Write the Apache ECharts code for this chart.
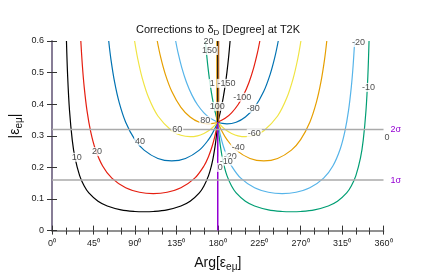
<!DOCTYPE html>
<html><head><meta charset="utf-8">
<script src="https://cdn.jsdelivr.net/npm/echarts@6/dist/echarts.min.js"></script>
<style>html,body{margin:0;padding:0;background:#fff}#c{width:436px;height:273px}</style>
</head><body><div id="c"></div>
<script>
// ---- data ----
const xTickValues = [0, 45, 90, 135, 180, 225, 270, 315, 360];
const yTickValues = [0, 0.1, 0.2, 0.3, 0.4, 0.5, 0.6];
const sigmaLevels = [0.16, 0.32];
const sigmaNames = ['1σ', '2σ'];

// contour curves: Arg [deg] and |eps| values
const phi_p10 = [15.7, 17, 19, 22, 25, 30, 35, 40, 50, 60, 75, 90, 100, 110, 125, 140, 150, 160, 165, 170, 173, 175, 177, 178, 179, 180];
const r_p10   = [0.6, 0.4887, 0.3807, 0.2865, 0.2301, 0.1741, 0.1409, 0.1191, 0.0927, 0.0778, 0.0657, 0.0605, 0.0596, 0.0605, 0.0657, 0.0778, 0.0927, 0.1191, 0.1409, 0.1741, 0.2037, 0.2301, 0.2648, 0.2865, 0.3121, 0.343];
const phi_m10 = [344.3, 343, 341, 338, 335, 330, 325, 320, 310, 300, 285, 270, 260, 250, 235, 220, 210, 200, 195, 190, 187, 185, 183, 182, 181, 180];
const r_m10   = [0.6, 0.4887, 0.3807, 0.2865, 0.2301, 0.1741, 0.1409, 0.1191, 0.0927, 0.0778, 0.0657, 0.0605, 0.0596, 0.0605, 0.0657, 0.0778, 0.0927, 0.1191, 0.1409, 0.1741, 0.2037, 0.2301, 0.2648, 0.2865, 0.3121, 0.343];

const phi_p20 = [31.3, 33, 35, 38, 42, 47, 55, 65, 80, 95, 110, 125, 140, 155, 165, 170, 174, 177, 178.5, 180];
const r_p20   = [0.6, 0.5215, 0.4533, 0.3796, 0.3131, 0.2584, 0.2045, 0.1659, 0.1355, 0.1214, 0.1173, 0.1214, 0.1355, 0.1659, 0.2045, 0.2346, 0.2676, 0.3002, 0.3201, 0.343];
const phi_m20 = [328.7, 327, 325, 322, 318, 313, 305, 295, 280, 265, 250, 235, 220, 205, 195, 190, 186, 183, 181.5, 180];
const r_m20   = [0.6, 0.5215, 0.4533, 0.3796, 0.3131, 0.2584, 0.2045, 0.1659, 0.1355, 0.1214, 0.1173, 0.1214, 0.1355, 0.1659, 0.2045, 0.2346, 0.2676, 0.3002, 0.3201, 0.343];

const phi_p40 = [61.6, 64, 68, 73, 80, 90, 100, 115, 130, 145, 160, 170, 175, 180];
const r_p40   = [0.6, 0.5421, 0.4696, 0.4048, 0.343, 0.2878, 0.2546, 0.2283, 0.2205, 0.2283, 0.2546, 0.2878, 0.3118, 0.343];
const phi_m40 = [298.4, 296, 292, 287, 280, 270, 260, 245, 230, 215, 200, 190, 185, 180];
const r_m40   = [0.6, 0.5421, 0.4696, 0.4048, 0.343, 0.2878, 0.2546, 0.2283, 0.2205, 0.2283, 0.2546, 0.2878, 0.3118, 0.343];

const phi_p60 = [89.7, 93, 98, 105, 115, 130, 140, 150, 158, 165, 170, 175, 180];
const r_p60   = [0.6, 0.5454, 0.4825, 0.4201, 0.3626, 0.3161, 0.3016, 0.2971, 0.3000, 0.3075, 0.3161, 0.3278, 0.343];
const phi_m60 = [270.3, 267, 262, 255, 245, 230, 220, 210, 202, 195, 190, 185, 180];
const r_m60   = [0.6, 0.5454, 0.4825, 0.4201, 0.3626, 0.3161, 0.3016, 0.2971, 0.3000, 0.3075, 0.3161, 0.3278, 0.343];

const phi_p80 = [114.3, 118, 123, 130, 140, 150, 160, 170, 175, 180];
const r_p80   = [0.6, 0.5487, 0.4953, 0.4410, 0.3900, 0.3595, 0.3430, 0.3378, 0.3391, 0.3430];
const phi_m80 = [245.7, 242, 237, 230, 220, 210, 200, 190, 185, 180];
const r_m80   = [0.6, 0.5487, 0.4953, 0.4410, 0.3900, 0.3595, 0.3430, 0.3378, 0.3391, 0.3430];

const phi_p100 = [134.3, 137, 141, 146, 152, 158, 165, 172, 180];
const r_p100   = [0.6, 0.5613, 0.5149, 0.4696, 0.4287, 0.3983, 0.3727, 0.3552, 0.3430];
const phi_m100 = [225.7, 223, 219, 214, 208, 202, 195, 188, 180];
const r_m100   = [0.6, 0.5613, 0.5149, 0.4696, 0.4287, 0.3983, 0.3727, 0.3552, 0.3430];

const phi_p150 = [166.6, 168, 170, 172, 174, 176, 178, 180];
const r_p150   = [0.6, 0.5550, 0.5014, 0.4578, 0.4216, 0.3912, 0.3653, 0.343];
const phi_m150 = [193.4, 192, 190, 188, 186, 184, 182, 180];
const r_m150   = [0.6, 0.5550, 0.5014, 0.4578, 0.4216, 0.3912, 0.3653, 0.343];

// zero contour along Arg = 180
const phi_zero = [180, 180];
const r_zero   = [0, 0.343];
// bunched contour lines along the branch cut above the singular point
const cutPhi = [179, 180, 181];
const cutR   = [0.343, 0.6];

// contour labels: text, Arg, |eps|
const labelText = ['10', '20', '40', '60', '80', '100', '150', '20', '1', '-150', '-100', '-80', '-60', '-40', '-20', '-10', '0', '-20', '-10', '0'];
const labelPhi  = [27, 49, 95.7, 136, 166.4, 179.5, 171, 170, 174, 189.6, 206.7, 218.6, 219.7, 202.3, 193.6, 189.3, 182.7, 332.8, 343.7, 363.8];
const labelR    = [0.232, 0.25, 0.283, 0.32, 0.349, 0.393, 0.570, 0.598, 0.466, 0.466, 0.422, 0.387, 0.308, 0.264, 0.236, 0.22, 0.2, 0.595, 0.453, 0.295];

// ---- styling ----
const C = {purple:'#9400D3', green:'#009E73', lblue:'#56B4E9', orange:'#E69F00', yellow:'#F0E442', blue:'#0072B2', red:'#E51E10', black:'#000000'};
const zip = (a, b) => a.map((v, i) => [v, b[i]]);
const curves = [
  [phi_p10, r_p10, C.black], [phi_p20, r_p20, C.red], [phi_p40, r_p40, C.blue], [phi_p60, r_p60, C.yellow],
  [phi_p80, r_p80, C.orange], [phi_p100, r_p100, C.lblue], [phi_p150, r_p150, C.green],
  [phi_m10, r_m10, C.green], [phi_m20, r_m20, C.lblue], [phi_m40, r_m40, C.orange], [phi_m60, r_m60, C.yellow],
  [phi_m80, r_m80, C.blue], [phi_m100, r_m100, C.red], [phi_m150, r_m150, C.black]
];
const series = [];
curves.forEach(([p, r, col]) => series.push({
  type: 'line', data: zip(p, r), symbol: 'none', smooth: 0.35,
  lineStyle: {color: col, width: 1.2}, z: 3, silent: true
}));
const cutColors = [C.orange, C.black, '#b5651d'];
cutPhi.forEach((p, i) => series.push({
  type: 'line', data: cutR.map(r => [p, r]), symbol: 'none',
  lineStyle: {color: cutColors[i], width: 1.2}, z: 3, silent: true
}));
series.push({type: 'line', data: zip(phi_zero, r_zero), symbol: 'none', lineStyle: {color: C.purple, width: 1.5}, z: 3, silent: true});
sigmaLevels.forEach((lv, i) => series.push({
  type: 'line', data: [[xTickValues[0], lv], [xTickValues[xTickValues.length - 1], lv]], symbol: 'none',
  lineStyle: {color: '#aaaaaa', width: 1.5}, z: 4, silent: true,
  endLabel: {show: true, formatter: sigmaNames[i], color: C.purple, fontSize: 9, distance: 7, fontFamily: 'Liberation Sans'}
}));
series.push({
  type: 'scatter', symbolSize: 1, itemStyle: {color: 'transparent'}, z: 10, clip: false, silent: true,
  data: labelText.map((t, i) => [labelPhi[i], labelR[i], t]),
  label: {show: true, position: 'inside', formatter: p => p.data[2], fontSize: 9, color: '#222',
          backgroundColor: '#fff', padding: [0, 1, 0, 1], fontFamily: 'Liberation Sans'}
});

const axisCol = '#8a8a8a';
const chart = echarts.init(document.getElementById('c'), null, {renderer: 'canvas'});
chart.setOption({
  animation: false,
  backgroundColor: '#fff',
  textStyle: {fontFamily: 'Liberation Sans'},
  title: {
    text: '{m|Corrections to δ}{s|D}{m| [Degree] at T2K}', left: 'center', top: 17,
    textStyle: {rich: {m: {fontSize: 11, color: '#111', fontWeight: 'normal', fontFamily: 'Liberation Sans'},
                       s: {fontSize: 8, color: '#111', fontWeight: 'normal', padding: [7, 0, 0, 0], fontFamily: 'Liberation Sans'}}}
  },
  graphic: [{
    type: 'text', x: 15, y: 126, rotation: Math.PI / 2, silent: true,
    style: {
      text: '{m||ε}{s|eμ}{m||}', align: 'center', verticalAlign: 'middle',
      rich: {m: {fontSize: 14, fill: '#111', fontFamily: 'Liberation Sans'},
             s: {fontSize: 10, fill: '#111', padding: [8, 0, 0, 0], fontFamily: 'Liberation Sans'}}
    }
  }],
  grid: {left: 52, right: 52.5, top: 41, bottom: 42.4, containLabel: false, outerBoundsMode: 'none'},
  xAxis: [{
    type: 'value', min: 0, max: 360, interval: 45, position: 'bottom',
    axisLine: {lineStyle: {color: axisCol, width: 1.5}},
    axisTick: {inside: true, length: 5, lineStyle: {color: '#333'}},
    minorTick: {show: true, splitNumber: 3, length: 3, lineStyle: {color: '#333'}},
    axisLabel: {fontSize: 9, color: '#222', margin: 8, formatter: v => v + '⁰'},
    splitLine: {show: false},
    name: '{m|Arg[ε}{s|eμ}{m|]}', nameLocation: 'middle', nameGap: 24, nameMoveOverlap: false,
    nameTextStyle: {rich: {m: {fontSize: 14, color: '#111'}, s: {fontSize: 10, color: '#111', padding: [8, 0, 0, 0]}}}
  }, {
    type: 'value', min: 0, max: 360, interval: 15, position: 'top',
    axisLine: {lineStyle: {color: axisCol, width: 1.5}},
    axisTick: {inside: true, length: 4, lineStyle: {color: '#333'}},
    axisLabel: {show: false}, splitLine: {show: false}
  }],
  yAxis: [{
    type: 'value', min: 0, max: 0.6, interval: 0.1, position: 'left',
    axisLine: {show: true, lineStyle: {color: axisCol, width: 1.5}},
    axisTick: {show: true, inside: true, length: 5, lineStyle: {color: '#333'}},
    axisLabel: {fontSize: 9, color: '#222', margin: 8, formatter: v => v === 0 ? '0' : v.toFixed(1)},
    splitLine: {show: false}
  }, {
    type: 'value', min: 0, max: 0.6, interval: 0.1, position: 'right',
    axisLine: {show: true, lineStyle: {color: '#7d6f90', width: 1.5}},
    axisTick: {show: true, inside: true, length: 5, lineStyle: {color: '#333'}},
    axisLabel: {show: false}, splitLine: {show: false}
  }],
  series: series
});
</script></body></html>
